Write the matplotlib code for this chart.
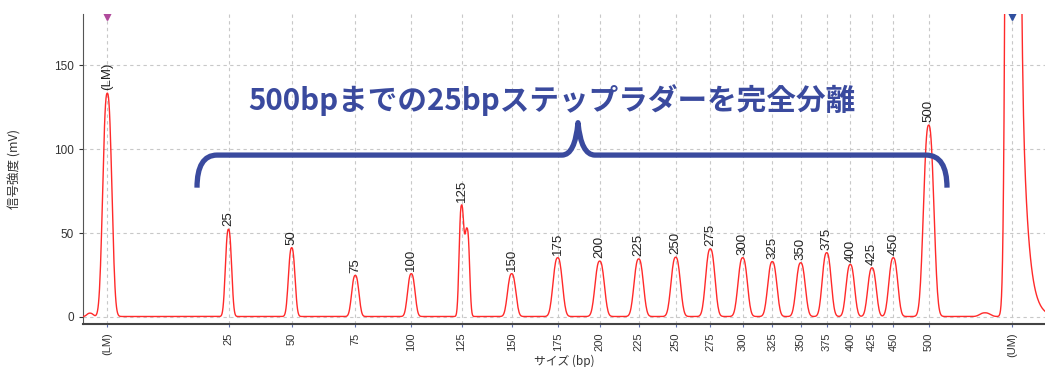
import numpy as np
import matplotlib
matplotlib.use("Agg")
import matplotlib.pyplot as plt
from matplotlib.path import Path
from matplotlib.patches import PathPatch

plt.rcParams['font.family'] = ['Liberation Sans', 'DejaVu Sans']
jp = ['Noto Sans CJK JP', 'DejaVu Sans']

# ピーク情報（泳動位置・高さ mV・幅）
peak_labels = ['(LM)', '25', '50', '75', '100', '125', '150', '175', '200', '225',
               '250', '275', '300', '325', '350', '375', '400', '425', '450', '500', '(UM)']
peak_pos = [107.3, 228.5, 291.7, 355.3, 411.3, 461.5, 511.7, 557.7, 599.7, 638.7,
            675.7, 710.3, 742.7, 772.3, 800.7, 826.7, 850.3, 872.0, 893.3, 928.7, 1012.3]
peak_height = [133, 52, 41, 24.5, 25.5, 66, 25.5, 35, 33, 34.3,
               35.3, 40.3, 35, 32.7, 32, 38, 31, 29, 35, 114, 1340]
peak_sigma = [4.4, 3.0, 3.2, 3.5, 3.6, 2.3, 4.0, 4.5, 4.5, 4.5,
              4.5, 4.5, 4.5, 4.4, 4.4, 4.3, 4.1, 4.1, 4.3, 5.0, 4.4]

# ラベルなしの成分（125bp の肩、ベースラインの小さな山）
extra_pos = [467.2, 90.0, 985.0]
extra_height = [52, 2.0, 2.2]
extra_sigma = [2.3, 3.0, 5.0]
baseline = 0.3
shape_p = 2.5  # ピーク形状の指数（2 でガウス）

# UM ピーク右側のテーリング（開始位置・振幅・減衰長）
tail_start, tail_amp, tail_len = 1017.0, 331.0, 6.0

# 電気泳動波形
x = np.arange(83, 1046, 0.5)
signal = np.full_like(x, baseline)
for p, h, s in zip(peak_pos + extra_pos, peak_height + extra_height, peak_sigma + extra_sigma):
    signal += h * np.exp(-0.5 * np.abs((x - p) / s) ** shape_p)
after = x >= tail_start
signal[after] += tail_amp * np.exp(-(x[after] - tail_start) / tail_len)

fig = plt.figure(figsize=(10.45, 3.67), dpi=100)
ax = fig.add_axes([83 / 1045, 43 / 367, 962 / 1045, 310 / 367])

ax.plot(x, signal, color='#ff2a2a', lw=1.0, zorder=3)

ax.set_xlim(83, 1045)
ax.set_ylim(-4.17, 180.4)
ax.set_xticks(peak_pos)
ax.set_xticklabels(peak_labels, rotation=90, fontsize=8, color='#333333')
ax.set_yticks([0, 50, 100, 150])
ax.tick_params(axis='y', labelsize=8.5, colors='#333333', length=3, width=0.8)
ax.tick_params(axis='x', length=2, width=0.8, color='#6070b0', pad=4)
ax.grid(True, color='#c8c8c8', linestyle=(0, (3, 3)), linewidth=0.8)
ax.set_axisbelow(True)

for side in ['top', 'right']:
    ax.spines[side].set_visible(False)
ax.spines['left'].set_color('#555555')
ax.spines['bottom'].set_color('#444444')
ax.spines['bottom'].set_linewidth(1.5)

ax.set_ylabel('信号強度 (mV)', family=jp, fontsize=9, color='#333333')
ax.yaxis.set_label_coords(-0.064, 0.5)
ax.set_xlabel('サイズ (bp)', family=jp, fontsize=8.5, color='#333333')
ax.xaxis.set_label_coords(0.5, -0.1)

# ピークの上にサイズ表示（UM はスケール外）
for lab, p in zip(peak_labels[:-1], peak_pos[:-1]):
    near = (x > p - 2) & (x < p + 2)
    top = signal[near].max()
    ax.annotate(lab, (p, top), xytext=(0, 2), textcoords='offset points',
                rotation=90, ha='center', va='bottom', fontsize=9.5, color='#222222')

# マーカー位置の三角
ax.plot(peak_pos[0], 180.4, marker='v', ms=9, color='#b04a9c', clip_on=True, zorder=4)
ax.plot(peak_pos[-1], 180.4, marker='v', ms=9, color='#2f4f9f', clip_on=True, zorder=4)

# 中括弧
navy = '#3a4a9e'
yb, yt, ye = 96.4, 115.7, 77.0
verts = [(197, ye), (197, yb), (217, yb),
         (562, yb), (575, yb), (578, yt),
         (581, yb), (595, yb),
         (926, yb), (947, yb), (947, ye)]
codes = [Path.MOVETO, Path.CURVE3, Path.CURVE3,
         Path.LINETO, Path.CURVE3, Path.CURVE3,
         Path.CURVE3, Path.CURVE3,
         Path.LINETO, Path.CURVE3, Path.CURVE3]
ax.add_patch(PathPatch(Path(verts, codes), fill=False, edgecolor=navy, lw=3.8,
                       capstyle='butt', joinstyle='round', zorder=5))

fig.text(551.5 / 1045, 1 - 110 / 367, '500bpまでの25bpステップラダーを完全分離',
         family=jp, fontweight='bold', fontsize=21.3,
         color=navy, ha='center', va='baseline')

fig.savefig('out.png', dpi=100)
